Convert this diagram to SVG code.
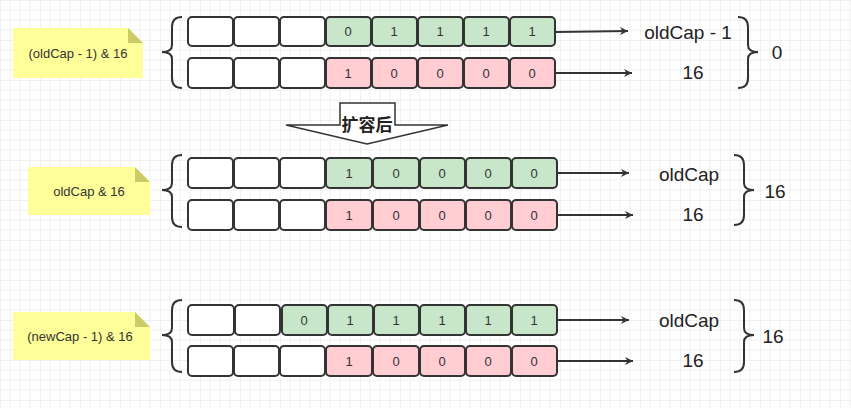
<svg xmlns="http://www.w3.org/2000/svg" width="851" height="408" viewBox="0 0 851 408">
<defs>
<pattern id="g" width="40" height="40" patternUnits="userSpaceOnUse">
<path d="M10 0V40M20 0V40M30 0V40M0 10H40M0 20H40M0 30H40" stroke="#f0f0f0" stroke-width="1"/>
<path d="M0 0V40M0 0H40" stroke="#e2e2e2" stroke-width="1"/>
</pattern>
<marker id="ah" viewBox="0 0 10 10" refX="10" refY="5" markerWidth="10" markerHeight="8" markerUnits="userSpaceOnUse" orient="auto"><path d="M0 0L10 5L0 10L3 5Z" fill="#333"/></marker>
</defs>
<style>
.c{stroke:#333;stroke-width:2;fill:#fff}
.gr{fill:#c8e6c9}.pk{fill:#ffcdd2}
.t{font-family:"Liberation Sans",Arial,sans-serif;font-size:13px;fill:#333;text-anchor:middle}
.b{font-family:"Liberation Sans",Arial,sans-serif;font-size:19px;fill:#222;text-anchor:middle}
.n{fill:#ffff99}.nf{fill:#cccc66}
.br{fill:none;stroke:#333;stroke-width:2}
.ln{stroke:#333;stroke-width:2;marker-end:url(#ah)}
</style>
<rect width="851" height="408" fill="url(#g)"/>

<g id="note1"><path class="n" d="M13 28H128L143 43V78H13Z"/><path class="nf" d="M128 28L143 43H128Z"/><text class="t" x="78" y="58">(oldCap - 1) &amp; 16</text></g>
<g id="note2"><path class="n" d="M28 167H135L150 182V215H28Z"/><path class="nf" d="M135 167L150 182H135Z"/><text class="t" x="89" y="196">oldCap &amp; 16</text></g>
<g id="note3"><path class="n" d="M13 312H135L150 327V360H13Z"/><path class="nf" d="M135 312L150 327H135Z"/><text class="t" x="80" y="341">(newCap - 1) &amp; 16</text></g>

<g id="braces">
<path class="br" d="M182 17Q172 17 172 27V45Q172 52 162 52Q172 52 172 59V78Q172 88 182 88"/>
<path class="br" d="M182 155Q172 155 172 165V183Q172 190 162 190Q172 190 172 197V217Q172 227 182 227"/>
<path class="br" d="M182 300Q172 300 172 310V328Q172 335 162 335Q172 335 172 342V362Q172 372 182 372"/>
<path class="br" d="M738 17Q748 17 748 27V45Q748 52 758 52Q748 52 748 59V78Q748 88 738 88"/>
<path class="br" d="M734 155Q744 155 744 165V183Q744 190 754 190Q744 190 744 197V215Q744 225 734 225"/>
<path class="br" d="M734 300Q744 300 744 310V328Q744 335 754 335Q744 335 744 342V362Q744 372 734 372"/>
</g>

<g id="row1a">
<rect class="c" x="188" y="17" width="45" height="29" rx="4"/><rect class="c" x="234" y="17" width="45" height="29" rx="4"/><rect class="c" x="280" y="17" width="45" height="29" rx="4"/>
<rect class="c gr" x="326" y="17" width="45" height="29" rx="4"/><rect class="c gr" x="372" y="17" width="45" height="29" rx="4"/><rect class="c gr" x="418" y="17" width="45" height="29" rx="4"/><rect class="c gr" x="464" y="17" width="45" height="29" rx="4"/><rect class="c gr" x="510" y="17" width="45" height="29" rx="4"/>
<text class="t" x="348" y="36">0</text><text class="t" x="394" y="36">1</text><text class="t" x="440" y="36">1</text><text class="t" x="486" y="36">1</text><text class="t" x="532" y="36">1</text>
</g>
<g id="row1b">
<rect class="c" x="188" y="58" width="45" height="30" rx="4"/><rect class="c" x="234" y="58" width="45" height="30" rx="4"/><rect class="c" x="280" y="58" width="45" height="30" rx="4"/>
<rect class="c pk" x="326" y="58" width="45" height="30" rx="4"/><rect class="c pk" x="372" y="58" width="45" height="30" rx="4"/><rect class="c pk" x="418" y="58" width="45" height="30" rx="4"/><rect class="c pk" x="464" y="58" width="45" height="30" rx="4"/><rect class="c pk" x="510" y="58" width="45" height="30" rx="4"/>
<text class="t" x="348" y="78">1</text><text class="t" x="394" y="78">0</text><text class="t" x="440" y="78">0</text><text class="t" x="486" y="78">0</text><text class="t" x="532" y="78">0</text>
</g>
<g id="row2a">
<rect class="c" x="188" y="158" width="45" height="30" rx="4"/><rect class="c" x="234" y="158" width="45" height="30" rx="4"/><rect class="c" x="280" y="158" width="45" height="30" rx="4"/>
<rect class="c gr" x="326" y="158" width="46" height="30" rx="4"/><rect class="c gr" x="373" y="158" width="46" height="30" rx="4"/><rect class="c gr" x="420" y="158" width="45" height="30" rx="4"/><rect class="c gr" x="466" y="158" width="45" height="30" rx="4"/><rect class="c gr" x="512" y="158" width="45" height="30" rx="4"/>
<text class="t" x="349" y="178">1</text><text class="t" x="396" y="178">0</text><text class="t" x="442" y="178">0</text><text class="t" x="488" y="178">0</text><text class="t" x="534" y="178">0</text>
</g>
<g id="row2b">
<rect class="c" x="188" y="200" width="45" height="30" rx="4"/><rect class="c" x="234" y="200" width="45" height="30" rx="4"/><rect class="c" x="280" y="200" width="45" height="30" rx="4"/>
<rect class="c pk" x="326" y="200" width="46" height="30" rx="4"/><rect class="c pk" x="373" y="200" width="46" height="30" rx="4"/><rect class="c pk" x="420" y="200" width="45" height="30" rx="4"/><rect class="c pk" x="466" y="200" width="45" height="30" rx="4"/><rect class="c pk" x="512" y="200" width="45" height="30" rx="4"/>
<text class="t" x="349" y="220">1</text><text class="t" x="396" y="220">0</text><text class="t" x="442" y="220">0</text><text class="t" x="488" y="220">0</text><text class="t" x="534" y="220">0</text>
</g>
<g id="row3a">
<rect class="c" x="188" y="305" width="46" height="30" rx="4"/><rect class="c" x="235" y="305" width="45" height="30" rx="4"/>
<rect class="c gr" x="282" y="305" width="45" height="30" rx="4"/><rect class="c gr" x="328" y="305" width="45" height="30" rx="4"/><rect class="c gr" x="374" y="305" width="45" height="30" rx="4"/><rect class="c gr" x="420" y="305" width="45" height="30" rx="4"/><rect class="c gr" x="466" y="305" width="45" height="30" rx="4"/><rect class="c gr" x="512" y="305" width="45" height="30" rx="4"/>
<text class="t" x="304" y="325">0</text><text class="t" x="350" y="325">1</text><text class="t" x="396" y="325">1</text><text class="t" x="442" y="325">1</text><text class="t" x="488" y="325">1</text><text class="t" x="534" y="325">1</text>
</g>
<g id="row3b">
<rect class="c" x="188" y="346" width="45" height="30" rx="4"/><rect class="c" x="234" y="346" width="45" height="30" rx="4"/><rect class="c" x="280" y="346" width="45" height="30" rx="4"/>
<rect class="c pk" x="326" y="346" width="46" height="30" rx="4"/><rect class="c pk" x="373" y="346" width="46" height="30" rx="4"/><rect class="c pk" x="420" y="346" width="45" height="30" rx="4"/><rect class="c pk" x="466" y="346" width="45" height="30" rx="4"/><rect class="c pk" x="512" y="346" width="45" height="30" rx="4"/>
<text class="t" x="349" y="366">1</text><text class="t" x="396" y="366">0</text><text class="t" x="442" y="366">0</text><text class="t" x="488" y="366">0</text><text class="t" x="534" y="366">0</text>
</g>

<g id="connectors">
<line class="ln" x1="556" y1="32" x2="628" y2="31"/>
<line class="ln" x1="556" y1="73" x2="632" y2="73"/>
<line class="ln" x1="558" y1="173" x2="629" y2="173"/>
<line class="ln" x1="558" y1="215" x2="633" y2="215"/>
<line class="ln" x1="558" y1="320" x2="629" y2="320"/>
<line class="ln" x1="558" y1="361" x2="633" y2="361"/>
</g>

<g id="labels">
<text class="b" x="688" y="39">oldCap - 1</text>
<text class="b" x="693" y="79">16</text>
<text class="b" x="777" y="59">0</text>
<text class="b" x="689" y="181">oldCap</text>
<text class="b" x="693" y="221">16</text>
<text class="b" x="775" y="198">16</text>
<text class="b" x="689" y="327">oldCap</text>
<text class="b" x="693" y="367">16</text>
<text class="b" x="773" y="343">16</text>
</g>

<g id="expand">
<path d="M340 125V103H395V125H448L367 144L286 125Z" fill="#fff" stroke="#333" stroke-width="1.5"/>
<text x="367" y="131" font-family="'Noto Sans CJK SC',sans-serif" font-size="17" font-weight="bold" fill="#222" text-anchor="middle">扩容后</text>
</g>
</svg>
